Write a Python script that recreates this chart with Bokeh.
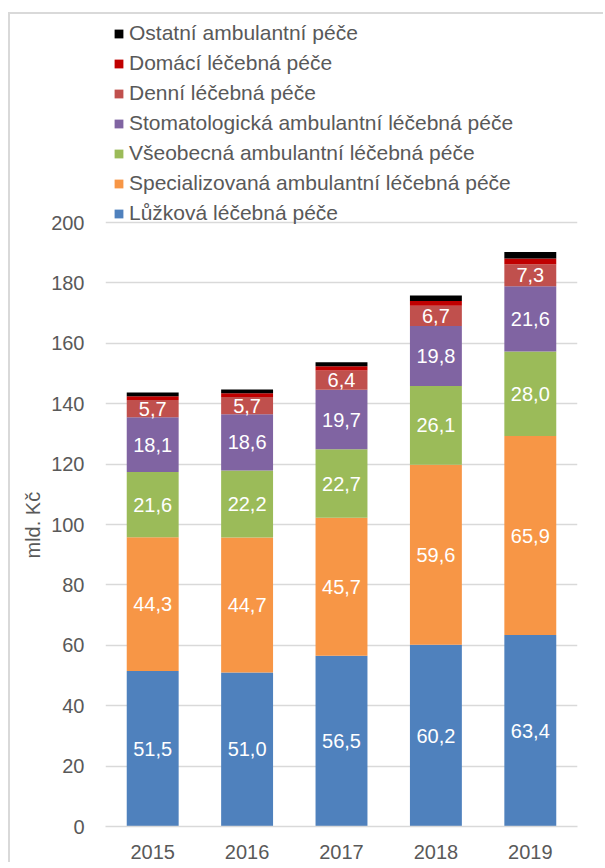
from bokeh.plotting import figure
from bokeh.models import (ColumnDataSource, FactorRange, Range1d, FixedTicker,
                          LabelSet, Legend, LegendItem, Title)
from bokeh.core.properties import value
from bokeh.embed import file_html
from bokeh.resources import INLINE

years = ["2015", "2016", "2017", "2018", "2019"]
luzkova = [51.5, 51.0, 56.5, 60.2, 63.4]
specializovana = [44.3, 44.7, 45.7, 59.6, 65.9]
vseobecna = [21.6, 22.2, 22.7, 26.1, 28.0]
stomatologicka = [18.1, 18.6, 19.7, 19.8, 21.6]
denni = [5.7, 5.7, 6.4, 6.7, 7.3]
domaci = [1.3, 1.3, 1.4, 1.6, 1.9]
ostatni = [1.2, 1.2, 1.3, 1.8, 2.1]

series_names = ["Lůžková léčebná péče",
                "Specializovaná ambulantní léčebná péče",
                "Všeobecná ambulantní léčebná péče",
                "Stomatologická ambulantní léčebná péče",
                "Denní léčebná péče",
                "Domácí léčebná péče",
                "Ostatní ambulantní péče"]
keys = ["luzkova", "specializovana", "vseobecna", "stomatologicka", "denni", "domaci", "ostatni"]
colors = ["#4F81BD", "#F79646", "#9BBB59", "#8064A2", "#C0504D", "#C00000", "#000000"]
labelled = [True, True, True, True, True, False, False]
y_ticks = [0, 20, 40, 60, 80, 100, 120, 140, 160, 180, 200]
y_title = "mld. Kč"

values = [luzkova, specializovana, vseobecna, stomatologicka, denni, domaci, ostatni]
data = {"year": years}
for k, v in zip(keys, values):
    data[k] = v
source = ColumnDataSource(data)

FONT = "Liberation Sans"
TXT = "#595959"
GRID = "#D9D9D9"

# frame: 810 px tall; the axis max (200) sits 604 px above the bottom, leaving room for the legend
FRAME_H = 810
Y_TOP = 200 * FRAME_H / 604

p = figure(x_range=FactorRange(*years), y_range=Range1d(0, Y_TOP),
           width=595, height=850, output_backend="svg", toolbar_location=None,
           min_border_left=95, min_border_right=28, min_border_top=2, min_border_bottom=38)
p.margin = (12, 0, 0, 8)
p.outline_line_color = None
p.stylesheets = [":host { border-left: 2px solid #D9D9D9; border-top: 2px solid #D9D9D9; }"]

renderers = p.vbar_stack(keys, x="year", width=0.55, color=colors, source=source, line_color=None)

# data labels
base = [0.0] * len(years)
for k, v, show in zip(keys, values, labelled):
    centers = [b + x / 2 for b, x in zip(base, v)]
    base = [b + x for b, x in zip(base, v)]
    if show:
        ls = ColumnDataSource(dict(x=years, y=centers,
                                   t=[f"{x:.1f}".replace(".", ",") for x in v]))
        p.add_layout(LabelSet(x="x", y="y", text="t", source=ls, text_align="center",
                              text_baseline="middle", text_color="white",
                              text_font=value(FONT), text_font_size="20px"))

# axes
p.yaxis.ticker = FixedTicker(ticks=y_ticks)
p.yaxis.axis_line_color = None
p.yaxis.major_tick_line_color = None
p.yaxis.minor_tick_line_color = None
p.yaxis.major_label_standoff = 15
p.xaxis.axis_line_color = GRID
p.xaxis.axis_line_width = 1.5
p.xaxis.major_tick_line_color = None
p.xaxis.minor_tick_line_color = None
p.xaxis.major_label_standoff = 12
for ax in (p.xaxis, p.yaxis):
    ax.major_label_text_font = FONT
    ax.major_label_text_font_size = "20px"
    ax.major_label_text_color = TXT

# y-axis title, centred on the 0-200 part of the axis
p.add_layout(Title(text=y_title, align="left", offset=268, text_font=FONT,
                   text_font_size="20px", text_font_style="normal", text_color=TXT,
                   standoff=10), "left")

p.xgrid.grid_line_color = None
p.ygrid.grid_line_color = GRID
p.ygrid.grid_line_width = 1.5
p.x_range.range_padding = 0
p.x_range.group_padding = 0

items = [LegendItem(label=n, renderers=[r]) for n, r in zip(series_names, renderers)][::-1]
legend = Legend(items=items, location=(8, 601), orientation="vertical",
                label_text_font=FONT, label_text_font_size="21px", label_text_color=TXT,
                glyph_width=11, glyph_height=11, label_standoff=5, label_height=20,
                spacing=6, padding=0, margin=0, border_line_color=None,
                background_fill_alpha=0)
p.add_layout(legend, "center")

open("out.html", "w").write(file_html(p, INLINE))
